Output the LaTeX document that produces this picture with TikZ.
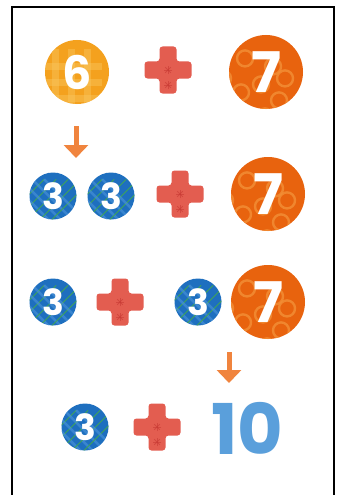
\documentclass[tikz,border=0pt]{standalone}
\usepackage{fontspec}
\setmainfont{Poppins}
\usetikzlibrary{arrows.meta}
\definecolor{sixc}{HTML}{F4A11E}
\definecolor{sixl}{HTML}{FAC55E}
\definecolor{sevc}{HTML}{E8630E}
\definecolor{sevl}{HTML}{F28F36}
\definecolor{thrc}{HTML}{1E6FBF}
\definecolor{thrb}{HTML}{4C95DA}
\definecolor{thrl}{HTML}{3FA35A}
\definecolor{plusc}{HTML}{E35D50}
\definecolor{plusd}{HTML}{C93B35}
\definecolor{tenc}{HTML}{5A9FDB}
\definecolor{arrc}{HTML}{F0843E}
\tikzset{
  num/.style={circle, inner sep=0pt, text=white},
  sixnum/.style={num, fill=sixc, minimum size=64pt,
    font=\fontsize{46}{46}\selectfont\bfseries,
    path picture={\begin{scope}[shift={(path picture bounding box.center)}]
      \foreach \d in {-26,-10,6,22}{
        \fill[sixl,opacity=.45] (\d,-40) rectangle (\d+7,40);
        \fill[sixl,opacity=.45] (-40,\d) rectangle (40,\d+7);}
    \end{scope}}},
  sevnum/.style={num, fill=sevc, minimum size=74pt,
    font=\fontsize{56}{56}\selectfont\bfseries,
    path picture={\begin{scope}[shift={(path picture bounding box.center)}]
      \foreach \x/\y in {-28/-14,-22/14,22/-26,28/8,4/32,-6/-34,14/24,-30/34,
                         -10/0,10/-8,34/-14,-16/28}{
        \draw[sevl,line width=2.4pt,opacity=.8] (\x,\y) circle (8);}
    \end{scope}}},
  thrnum/.style={num, fill=thrc, minimum size=47pt,
    font=\fontsize{36}{36}\selectfont\bfseries,
    path picture={\begin{scope}[shift={(path picture bounding box.center)}]
      \foreach \d in {-40,-28,...,40}{
        \draw[thrb,line width=2.5pt,opacity=.6] (\d-30,-30) -- (\d+30,30);
        \draw[thrl,line width=.9pt] (\d-30,30) -- (\d+30,-30);}
    \end{scope}}},
  plus/.style={inner sep=0pt, minimum size=48pt,
    path picture={\begin{scope}[shift={(path picture bounding box.center)}]
      \fill[plusc, rounded corners=3pt] (-8.5,-23.5) -- (8.5,-23.5) -- (8.5,-8.5)
        -- (23.5,-8.5) -- (23.5,8.5) -- (8.5,8.5) -- (8.5,23.5) -- (-8.5,23.5)
        -- (-8.5,8.5) -- (-23.5,8.5) -- (-23.5,-8.5) -- (-8.5,-8.5) -- cycle;
      \foreach \cx/\cy in {0/0,0/15}{
        \foreach \a in {0,45,...,135}{
          \draw[plusd,line width=.8pt,opacity=.6] (\cx,\cy) ++(\a:4) -- ++(\a+180:8);}}
    \end{scope}}},
  ten/.style={inner sep=0pt, text=tenc, font=\fontsize{70}{70}\selectfont\bfseries},
  arr/.style={draw=arrc, line width=5pt, -{Triangle[width=24pt,length=13pt]}}
}
\begin{document}
\begin{tikzpicture}[x=1pt,y=-1pt]
\useasboundingbox[fill=white] (0,0) rectangle (339,495);
\draw[line width=1.8pt] (12,495) -- (12,7) -- (334,7) -- (334,495);
% row 1
\node[sixnum] (six) at (77,72) {6};
\node[plus] (p1) at (168,70) {};
\node[sevnum] (s1) at (266,72) {7};
% arrow 1
\coordinate (a1s) at (76,126);
\coordinate (a1e) at (76,158);
\draw[arr] (a1s) -- (a1e);
% row 2
\node[thrnum] (t21) at (53,196) {3};
\node[thrnum] (t22) at (111,196) {3};
\node[plus] (p2) at (180,194) {};
\node[sevnum] (s2) at (268,194) {7};
% row 3
\node[thrnum] (t31) at (53,302) {3};
\node[plus] (p3) at (120,302) {};
\node[thrnum] (t32) at (198,302) {3};
\node[sevnum] (s3) at (268,302) {7};
% arrow 2
\coordinate (a2s) at (229,352);
\coordinate (a2e) at (229,383);
\draw[arr] (a2s) -- (a2e);
% row 4
\node[thrnum] (t41) at (85,427) {3};
\node[plus] (p4) at (157,427) {};
\node[ten] (ten) at (247,428) {10};
\end{tikzpicture}
\end{document}
